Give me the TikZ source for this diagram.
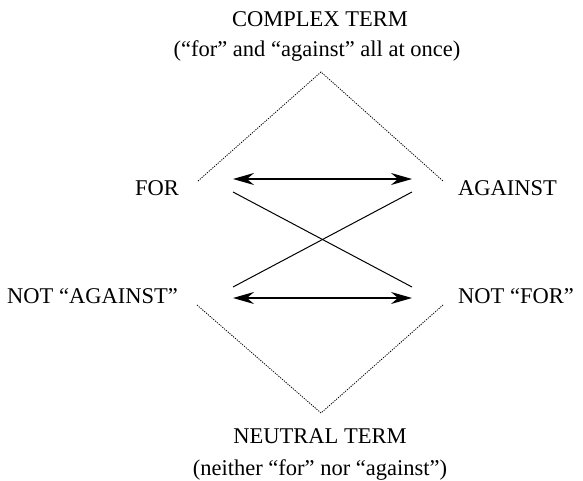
\documentclass[tikz,border=0pt]{standalone}
\usepackage{fontspec}
\setmainfont{Liberation Serif}
\usetikzlibrary{arrows.meta}
\begin{document}
\begin{tikzpicture}[x=1pt,y=-1pt,
  lbl/.style={font=\fontsize{22.5}{26}\selectfont, inner sep=0pt, anchor=base},
  dotline/.style={line width=0.8pt, dash pattern=on 1.2pt off 1.2pt},
  dbl/.style={line width=1.5pt, {Stealth[length=21pt,width=12pt,inset=7pt]}-{Stealth[length=21pt,width=12pt,inset=7pt]}},
  cross/.style={line width=1pt}]
\useasboundingbox (0,0) rectangle (583,481);
\node[lbl] (ct1) at (320,27) {COMPLEX TERM};
\node[lbl] (ct2) at (317,57) {(“for” and “against” all at once)};
\node[lbl, anchor=base east] (for) at (179,195) {FOR};
\node[lbl, anchor=base west] (ag) at (458,196) {AGAINST};
\node[lbl, anchor=base east] (nag) at (178,303) {NOT “AGAINST”};
\node[lbl, anchor=base west] (nfor) at (458,303) {NOT “FOR”};
\node[lbl] (nt1) at (320,443) {NEUTRAL TERM};
\node[lbl] (nt2) at (320,475) {(neither “for” nor “against”)};
\coordinate (topA) at (321,72);
\coordinate (tl) at (198,181);
\coordinate (tr) at (443,181);
\coordinate (botA) at (321,413);
\coordinate (bl) at (197,305);
\coordinate (br) at (443,305);
\coordinate (a1) at (233,179);
\coordinate (a2) at (412,179);
\coordinate (b1) at (233,298);
\coordinate (b2) at (412,298);
\coordinate (c1) at (233,192);
\coordinate (c2) at (412,287);
\coordinate (d1) at (412,192);
\coordinate (d2) at (233,287);
\draw[dotline] (tl) -- (topA) -- (tr);
\draw[dotline] (bl) -- (botA) -- (br);
\draw[dbl] (a1) -- (a2);
\draw[dbl] (b1) -- (b2);
\draw[cross] (c1) -- (c2);
\draw[cross] (d1) -- (d2);
\end{tikzpicture}
\end{document}
